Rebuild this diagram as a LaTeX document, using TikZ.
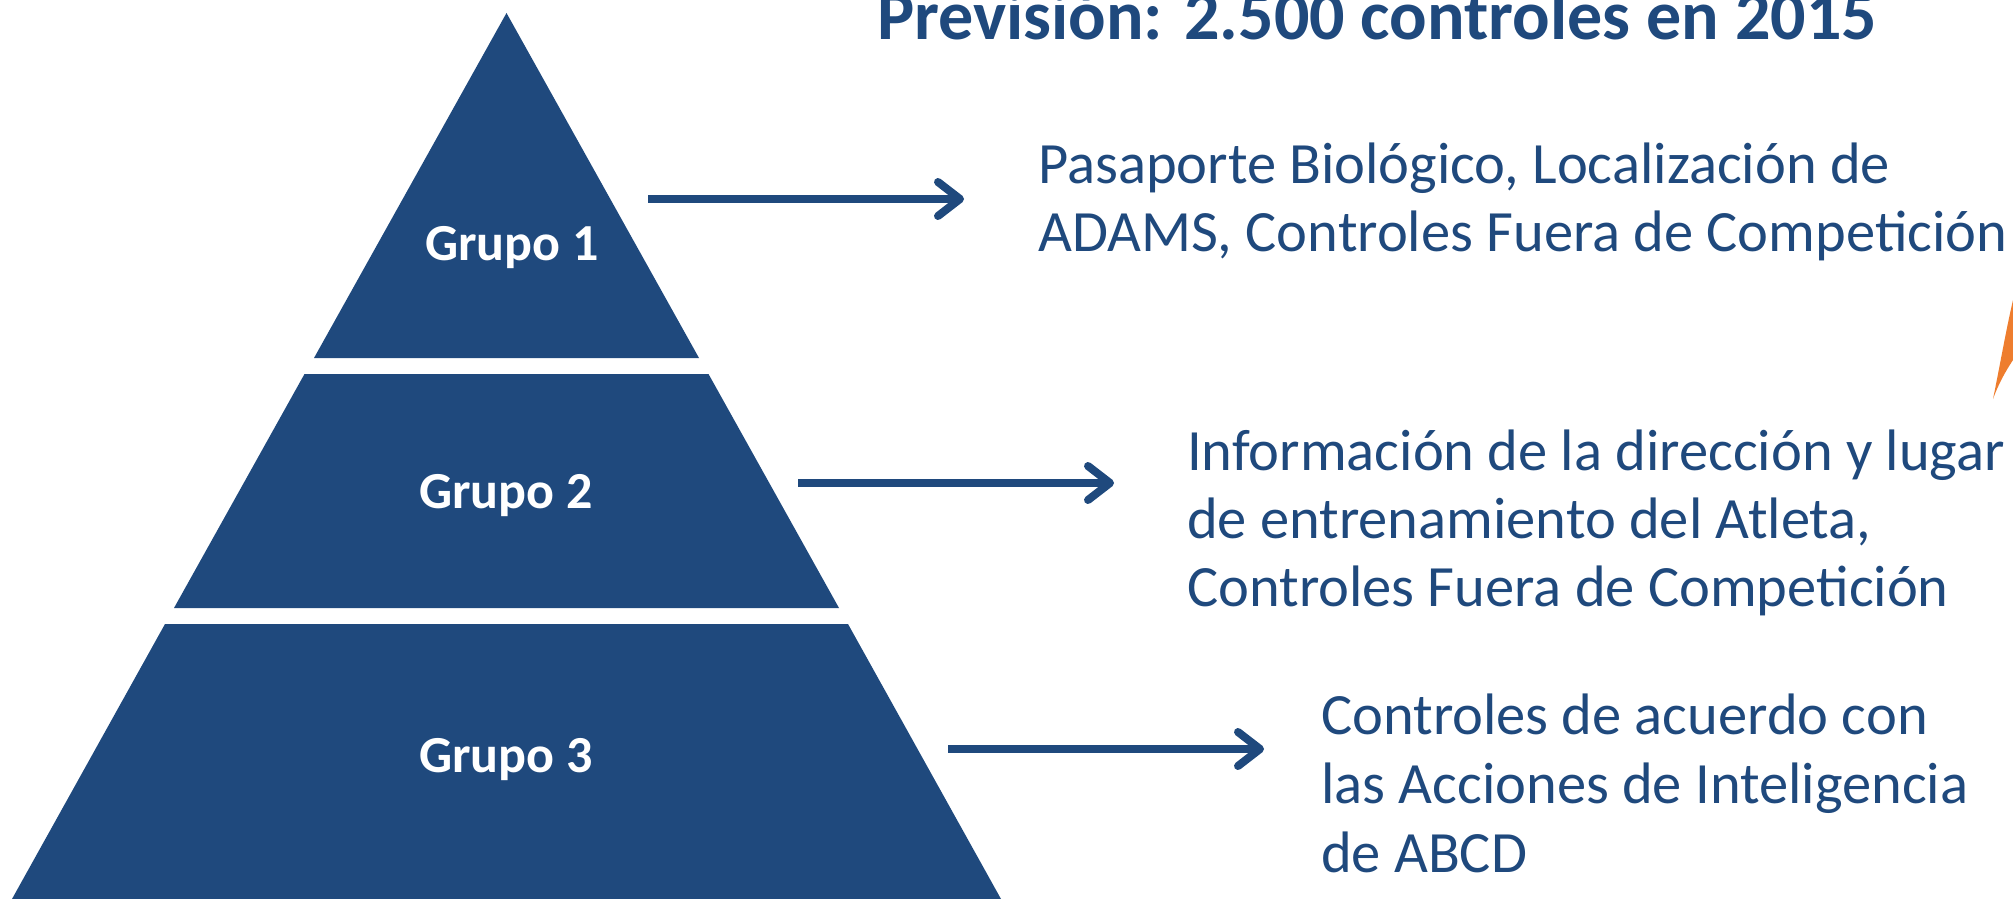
\documentclass[tikz,border=0pt]{standalone}
\usepackage{fontspec}
\setmainfont{Carlito}
\usetikzlibrary{arrows.meta}
\definecolor{navy}{HTML}{1F497D}
\definecolor{swoosh}{HTML}{EE7D2E}
\tikzset{
  tier/.style={fill=navy, draw=none},
  tierlabel/.style={text=white, font=\fontsize{52}{60}\selectfont\bfseries, anchor=base, inner sep=0pt},
  bodytext/.style={text=navy, anchor=base west, align=left, inner sep=0pt},
  pointer/.style={draw=navy, line width=8pt, -{Straight Barb[length=22pt,width=34pt,round]}},
}
\begin{document}
\begin{tikzpicture}[x=1pt,y=-1pt]
\useasboundingbox (0,0) rectangle (2013,899);
\clip (0,0) rectangle (2013,899);
% pyramid
\fill[tier] (506.5,13) -- (699,358) -- (314,358) -- cycle;
\fill[tier] (304.5,374) -- (708.5,374) -- (839,608) -- (174,608) -- cycle;
\fill[tier] (165,624) -- (848,624) -- (1001,899) -- (12,899) -- cycle;
\node[tierlabel] (g1) at (512,260) {Grupo 1};
\node[tierlabel] (g2) at (506,508.5) {Grupo 2};
\node[tierlabel] (g3) at (506,772) {Grupo 3};
% title
\node[text=navy, font=\fontsize{70}{80}\selectfont\bfseries, anchor=base, inner sep=0pt] (title) at (1377,40) {Previsión: 2.500 controles en 2015};
% texts (anchor = baseline of last line)
\node[bodytext, font=\fontsize{58.5}{67.5}\selectfont] (t1) at (1038,251) {Pasaporte Biológico, Localización de\\ADAMS, Controles Fuera de Competición};
\node[bodytext, font=\fontsize{58.5}{68}\selectfont] (t2) at (1187,606) {Información de la dirección y lugar\\de entrenamiento del Atleta,\\Controles Fuera de Competición};
\node[bodytext, font=\fontsize{58.5}{69}\selectfont] (t3) at (1321,872) {Controles de acuerdo con\\las Acciones de Inteligencia\\de ABCD};
% arrows
\coordinate (a1s) at (648,199);
\coordinate (a1e) at (964,199);
\coordinate (a2s) at (798,483);
\coordinate (a2e) at (1114,483);
\coordinate (a3s) at (948,749);
\coordinate (a3e) at (1264,749);
\draw[pointer] (a1s) -- (a1e);
\draw[pointer] (a2s) -- (a2e);
\draw[pointer] (a3s) -- (a3e);
% orange swoosh (cut-off logo)
\fill[swoosh] (1993,399) .. controls (2000,365) and (2006,330) .. (2013,300) -- (2013,360) .. controls (2005,372) and (1998,385) .. (1993,399) -- cycle;
\end{tikzpicture}
\end{document}
